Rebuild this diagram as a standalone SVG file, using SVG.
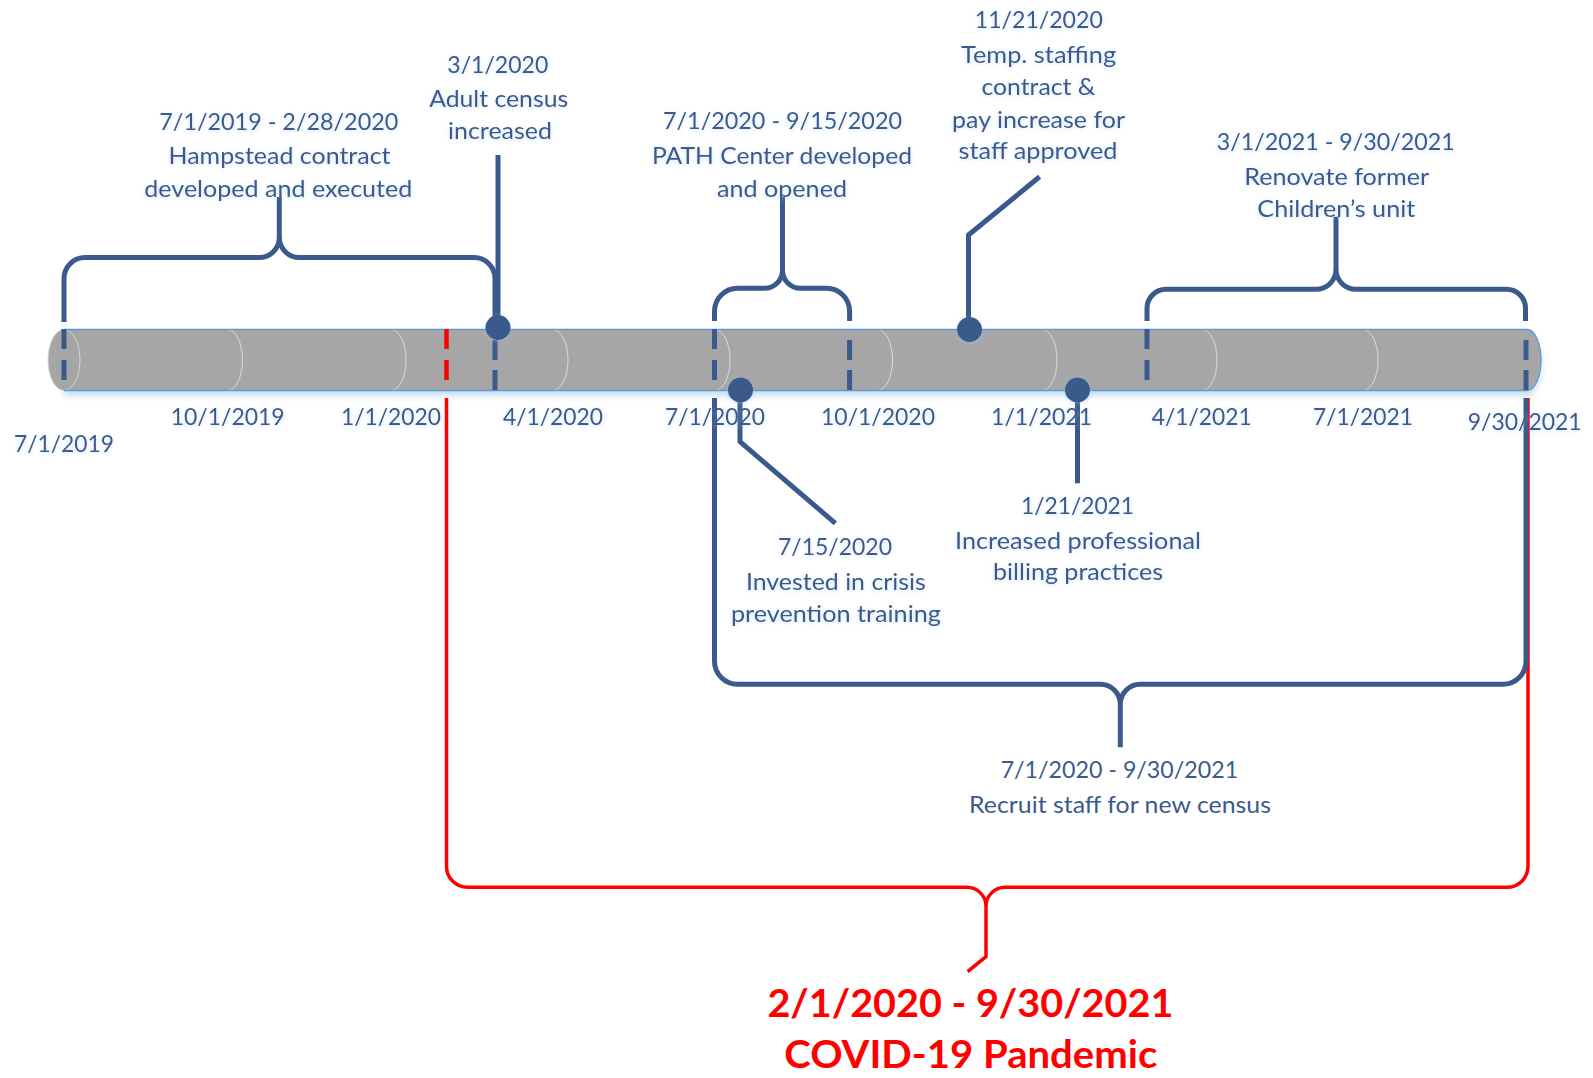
<svg xmlns="http://www.w3.org/2000/svg" width="1593" height="1078" viewBox="0 0 1593 1078">
<style>
.lbl{font-family:Lato,"Open Sans","Liberation Sans",sans-serif;font-size:24px;fill:#3B5A8C;text-anchor:middle}
.red-lbl{font-family:Lato,"Open Sans","Liberation Sans",sans-serif;font-size:39px;font-weight:bold;fill:#FF0000;text-anchor:middle}
.br{fill:none;stroke:#3A5A8C;stroke-width:5}
.rbr{fill:none;stroke:#FF0000;stroke-width:3.5}
.dA{fill:none;stroke:#3A5A8C;stroke-width:5;stroke-dasharray:20 11}
.dB{fill:none;stroke:#3A5A8C;stroke-width:5;stroke-dasharray:20 10}
.dR{fill:none;stroke:#FF0000;stroke-width:4.5;stroke-dasharray:20 11}
.dot{fill:#3A5A8C}
.seg{fill:none;stroke:#DADADA;stroke-width:1}
.edge{fill:none;stroke:#5B9BD5;stroke-width:1.3}
</style>
<defs>
<filter id="glow" x="-10%" y="-40%" width="120%" height="180%">
<feGaussianBlur in="SourceAlpha" stdDeviation="2" result="b"/>
<feFlood flood-color="#9DC3E6" flood-opacity="0.5"/>
<feComposite in2="b" operator="in" result="g"/>
<feOffset dx="0" dy="1" result="go"/>
<feMerge><feMergeNode in="go"/><feMergeNode in="SourceGraphic"/></feMerge>
</filter>
<filter id="soft" x="-5%" y="-50%" width="110%" height="200%">
<feGaussianBlur stdDeviation="3"/>
</filter>
</defs>
<rect width="1593" height="1078" fill="#FFFFFF"/>

<g id="timeline-bar">
<path d="M64,333 H1527 A14,30.5 0 0 1 1527,396 H64 Z" fill="#BDD7EE" opacity="0.8" filter="url(#soft)"/>
<path d="M64,329.5 H1527 A14,30.5 0 0 1 1527,390.5 H64 Z" fill="#A6A6A6"/>
<ellipse cx="64" cy="360" rx="16" ry="30.5" fill="#A6A6A6" stroke="#D6D6D6" stroke-width="1"/>
<path class="seg" d="M227.5,329.5 A15,30.5 0 0 1 227.5,390.5 M391,329.5 A15,30.5 0 0 1 391,390.5 M553,329.5 A15,30.5 0 0 1 553,390.5 M715,329.5 A15,30.5 0 0 1 715,390.5 M877.5,329.5 A15,30.5 0 0 1 877.5,390.5 M1042,329.5 A15,30.5 0 0 1 1042,390.5 M1202,329.5 A15,30.5 0 0 1 1202,390.5 M1363,329.5 A15,30.5 0 0 1 1363,390.5"/>
<path class="edge" d="M64,329.5 H1527 A14,30.5 0 0 1 1527,390.5 H64"/>
</g>

<g id="connectors">
<path id="covid-bracket" class="rbr" d="M446.5,398 V866 A21,21 0 0 0 467.5,887.3 H967 A19,19 0 0 1 986,906.3 A19,19 0 0 1 1005,887.3 H1507 A21,21 0 0 0 1528,866.3 V398 M986,906.3 V956.7 L967.6,971.7"/>
<path id="covid-start" class="dR" d="M446.5,329 V381"/>
<path id="hampstead-bracket" class="br" d="M64,322 V278.5 A21,21 0 0 1 85,257.5 H259 A20,20 0 0 0 279.3,237.5 A20,20 0 0 0 299.6,257.5 H474 A21,21 0 0 1 495,278.5 V322 M279.3,237.5 V197"/>
<path id="path-bracket" class="br" d="M714.5,321 V311.3 A23,23 0 0 1 737.5,288.3 H764.5 A18,18 0 0 0 782.5,270.3 A18,18 0 0 0 800.5,288.3 H826.6 A23,23 0 0 1 849.6,311.3 V321 M782.5,270.3 V196.7"/>
<path id="renovate-bracket" class="br" d="M1147,321 V308.3 A19,19 0 0 1 1166,289.3 H1316 A20,20 0 0 0 1336,269.3 A20,20 0 0 0 1356,289.3 H1506.5 A19,19 0 0 1 1525.5,308.3 V321 M1336,269.3 V216.7"/>
<path id="recruit-bracket" class="br" d="M714.5,398 V661.3 A23,23 0 0 0 737.5,684.3 H1100 A20,20 0 0 1 1120.3,704.3 A20,20 0 0 1 1140.6,684.3 H1503 A23,23 0 0 0 1526,661.3 V398 M1120.3,704.3 V747.3"/>
<path class="dA" d="M64,329 V381"/>
<path class="dB" d="M495,340 V390"/>
<path class="dA" d="M714.5,329 V381"/>
<path class="dB" d="M849.6,340 V390"/>
<path class="dA" d="M1147,329 V381"/>
<path class="dB" d="M1526,340 V390"/>
<path id="leader-adult-census" class="br" d="M498,155 V327"/>
<path id="leader-temp-staffing" class="br" d="M1039.6,176.7 L968.5,235 V329"/>
<path id="leader-crisis-training" class="br" d="M740,390 V441.7 L835.4,523.3"/>
<path id="leader-billing" class="br" d="M1077.5,390 V483.3"/>
</g>

<g id="ticks" filter="url(#glow)">
<text class="lbl" x="64" y="451.5" textLength="100" lengthAdjust="spacingAndGlyphs">7/1/2019</text>
<text class="lbl" x="227.7" y="424.5" textLength="114" lengthAdjust="spacingAndGlyphs">10/1/2019</text>
<text class="lbl" x="391" y="424.5" textLength="100" lengthAdjust="spacingAndGlyphs">1/1/2020</text>
<text class="lbl" x="553" y="424.5" textLength="100" lengthAdjust="spacingAndGlyphs">4/1/2020</text>
<text class="lbl" x="715" y="424.5" textLength="100" lengthAdjust="spacingAndGlyphs">7/1/2020</text>
<text class="lbl" x="878" y="424.5" textLength="114" lengthAdjust="spacingAndGlyphs">10/1/2020</text>
<text class="lbl" x="1041.6" y="424.5" textLength="101" lengthAdjust="spacingAndGlyphs">1/1/2021</text>
<text class="lbl" x="1201.7" y="424.5" textLength="100" lengthAdjust="spacingAndGlyphs">4/1/2021</text>
<text class="lbl" x="1363" y="424.5" textLength="100" lengthAdjust="spacingAndGlyphs">7/1/2021</text>
<text class="lbl" x="1524.7" y="430" textLength="114" lengthAdjust="spacingAndGlyphs">9/30/2021</text>
</g>

<g id="node-hampstead" filter="url(#glow)">
<text class="lbl" x="278.8" y="130" textLength="239" lengthAdjust="spacingAndGlyphs">7/1/2019 - 2/28/2020</text>
<text class="lbl" x="279.5" y="164" textLength="222" lengthAdjust="spacingAndGlyphs">Hampstead contract</text>
<text class="lbl" x="278.3" y="196.7" textLength="268" lengthAdjust="spacingAndGlyphs">developed and executed</text>
</g>

<g id="node-adult-census" filter="url(#glow)">
<circle class="dot" cx="498" cy="327.5" r="12.5"/>
<text class="lbl" x="497.8" y="73.3" textLength="101" lengthAdjust="spacingAndGlyphs">3/1/2020</text>
<text class="lbl" x="498.7" y="106.7" textLength="139" lengthAdjust="spacingAndGlyphs">Adult census</text>
<text class="lbl" x="500" y="139.3" textLength="104" lengthAdjust="spacingAndGlyphs">increased</text>
</g>

<g id="node-path-center" filter="url(#glow)">
<text class="lbl" x="782.5" y="129.3" textLength="239" lengthAdjust="spacingAndGlyphs">7/1/2020 - 9/15/2020</text>
<text class="lbl" x="782" y="164" textLength="260" lengthAdjust="spacingAndGlyphs">PATH Center developed</text>
<text class="lbl" x="782" y="196.7" textLength="130" lengthAdjust="spacingAndGlyphs">and opened</text>
</g>

<g id="node-temp-staffing" filter="url(#glow)">
<circle class="dot" cx="969.5" cy="329.5" r="12.5"/>
<text class="lbl" x="1038.8" y="28.3" textLength="128" lengthAdjust="spacingAndGlyphs">11/21/2020</text>
<text class="lbl" x="1038.6" y="62.7" textLength="155" lengthAdjust="spacingAndGlyphs">Temp. staffing</text>
<text class="lbl" x="1038.4" y="95" textLength="114" lengthAdjust="spacingAndGlyphs">contract &amp;</text>
<text class="lbl" x="1038.6" y="128.3" textLength="173" lengthAdjust="spacingAndGlyphs">pay increase for</text>
<text class="lbl" x="1038" y="159.3" textLength="159" lengthAdjust="spacingAndGlyphs">staff approved</text>
</g>

<g id="node-renovate" filter="url(#glow)">
<text class="lbl" x="1335.8" y="150" textLength="238" lengthAdjust="spacingAndGlyphs">3/1/2021 - 9/30/2021</text>
<text class="lbl" x="1336.7" y="185" textLength="185" lengthAdjust="spacingAndGlyphs">Renovate former</text>
<text class="lbl" x="1336.3" y="216.7" textLength="158" lengthAdjust="spacingAndGlyphs">Children’s unit</text>
</g>

<g id="node-crisis-training" filter="url(#glow)">
<circle class="dot" cx="740.5" cy="390" r="12.5"/>
<text class="lbl" x="835" y="555" textLength="114" lengthAdjust="spacingAndGlyphs">7/15/2020</text>
<text class="lbl" x="835.9" y="590" textLength="180" lengthAdjust="spacingAndGlyphs">Invested in crisis</text>
<text class="lbl" x="835.9" y="621.7" textLength="210" lengthAdjust="spacingAndGlyphs">prevention training</text>
</g>

<g id="node-billing" filter="url(#glow)">
<circle class="dot" cx="1077.5" cy="390" r="12.5"/>
<text class="lbl" x="1077.5" y="514" textLength="113" lengthAdjust="spacingAndGlyphs">1/21/2021</text>
<text class="lbl" x="1078" y="549.3" textLength="246" lengthAdjust="spacingAndGlyphs">Increased professional</text>
<text class="lbl" x="1078" y="580" textLength="170" lengthAdjust="spacingAndGlyphs">billing practices</text>
</g>

<g id="node-recruit">
<text class="lbl" x="1119.4" y="778.3" textLength="237.5" lengthAdjust="spacingAndGlyphs">7/1/2020 - 9/30/2021</text>
<text class="lbl" x="1120" y="813.3" textLength="302" lengthAdjust="spacingAndGlyphs">Recruit staff for new census</text>
</g>

<g id="node-covid">
<text class="red-lbl" x="970.4" y="1017" textLength="406" lengthAdjust="spacingAndGlyphs">2/1/2020 - 9/30/2021</text>
<text class="red-lbl" x="970.8" y="1068" textLength="373" lengthAdjust="spacingAndGlyphs">COVID-19 Pandemic</text>
</g>
</svg>
